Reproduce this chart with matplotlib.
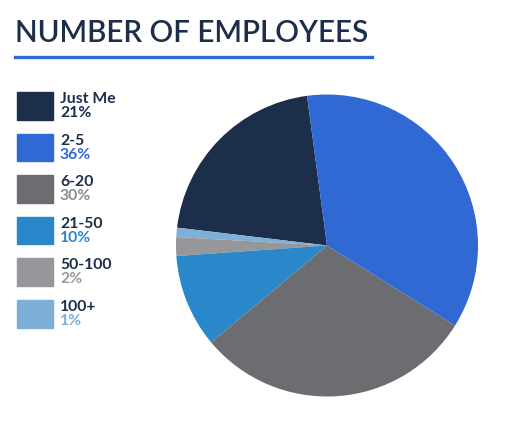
import matplotlib
matplotlib.use("Agg")
import matplotlib.pyplot as plt
from matplotlib.patches import Rectangle

labels = ["Just Me", "2-5", "6-20", "21-50", "50-100", "100+"]
pcts = [21, 36, 30, 10, 2, 1]
colors = ["#1C2E4A", "#3068D4", "#6C6D71", "#2A88CA", "#96979B", "#7EAFD6"]
pct_colors = ["#1C2E4A", "#3068D4", "#8A8B8F", "#2A88CA", "#9A9B9F", "#7EAFD6"]
# counterclockwise order of the slices starting at the top
pie_order = ["Just Me", "100+", "50-100", "21-50", "6-20", "2-5"]

W, H = 511, 424
fig = plt.figure(figsize=(W / 100, H / 100), dpi=100)
FONT = ["Lato", "DejaVu Sans"]

def fy(y):
    return 1 - y / H

# title + underline
fig.text(15 / W, fy(42), "NUMBER OF EMPLOYEES", fontsize=21.3, fontweight="semibold",
         color="#1C2E4A", family=FONT, ha="left", va="baseline")
fig.add_artist(plt.Line2D([15 / W, 372 / W], [fy(57), fy(57)], color="#3068D4", lw=2.4))

# legend
for i, (lab, p) in enumerate(zip(labels, pcts)):
    top = 92 + i * 41.6
    fig.add_artist(Rectangle((17 / W, fy(top + 27.5)), 36 / W, 27.5 / H,
                             transform=fig.transFigure, color=colors[i]))
    fig.text(60 / W, fy(top + 11), lab, fontsize=11.3, fontweight="bold",
             color="#1C2E4A", family=FONT, ha="left", va="baseline")
    fig.text(60 / W, fy(top + 25), f"{p}%", fontsize=11.3, fontweight="bold",
             color=pct_colors[i], family=FONT, ha="left", va="baseline")

# pie
cx, cy, r = 327, 245.5, 151
ax = fig.add_axes([(cx - r) / W, (H - cy - r) / H, 2 * r / W, 2 * r / H])
vals = [pcts[labels.index(l)] for l in pie_order]
cols = [colors[labels.index(l)] for l in pie_order]
ax.pie(vals, colors=cols, startangle=97.6, counterclock=True, radius=1,
       wedgeprops=dict(linewidth=0))
ax.set_xlim(-1, 1)
ax.set_ylim(-1, 1)
ax.set_aspect("equal")
ax.axis("off")

fig.savefig("out.png", dpi=100)
